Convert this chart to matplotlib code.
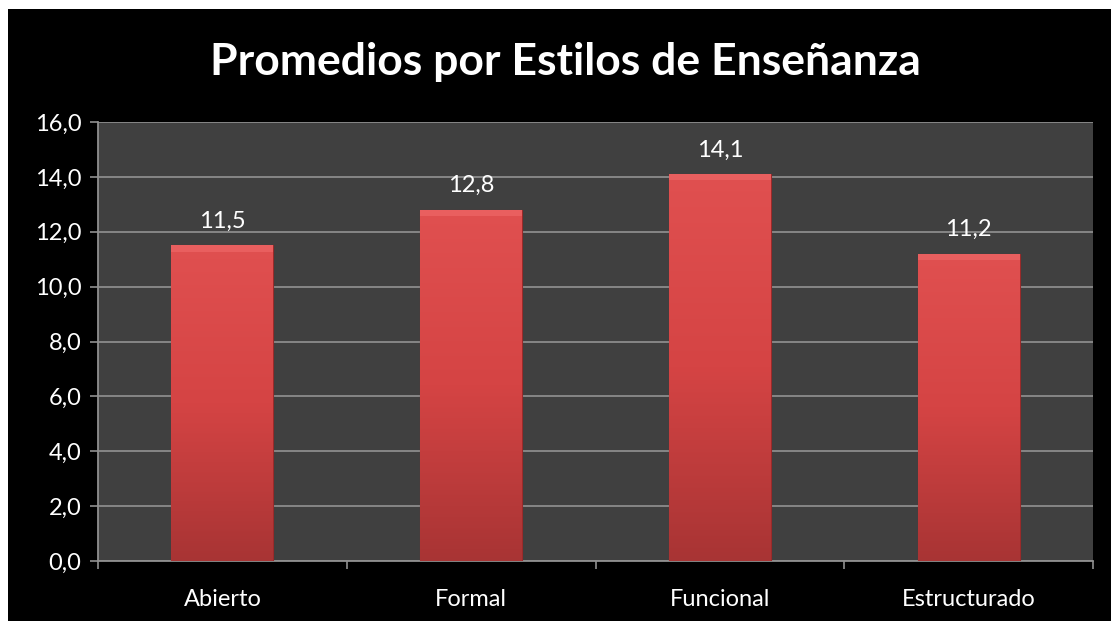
import numpy as np
import matplotlib.pyplot as plt
from matplotlib.patches import Rectangle
from matplotlib.colors import LinearSegmentedColormap

plt.rcParams['font.family'] = ['Lato', 'DejaVu Sans']

# datos
estilos = ['Abierto', 'Formal', 'Funcional', 'Estructurado']
promedios = [11.5, 12.8, 14.1, 11.2]
yticks = np.arange(0, 16.1, 2)

fig = plt.figure(figsize=(11.11, 6.21), dpi=100)
fig.patch.set_facecolor('white')
# fondo negro del gráfico (con margen blanco arriba e izquierda)
fig.patches.append(Rectangle((8 / 1111, 0), 1, 1 - 9 / 621, transform=fig.transFigure,
                             facecolor='black', edgecolor='none', zorder=-10))

ax = fig.add_axes([98 / 1111, 1 - 561 / 621, (1093 - 98) / 1111, (561 - 122) / 621])
ax.set_facecolor('#404040')

x = np.arange(len(estilos))
ancho = 0.41
barras = ax.bar(x, promedios, width=ancho, color='#d04040', edgecolor='#9a2a2a',
                linewidth=0.8, zorder=3)

# degradado vertical en cada barra
cmap = LinearSegmentedColormap.from_list('rojo', ['#a83434', '#d54444', '#e05050'])
grad = np.linspace(0, 1, 256).reshape(-1, 1)
for b in barras:
    x0, w, h = b.get_x(), b.get_width(), b.get_height()
    im = ax.imshow(grad, cmap=cmap, origin='lower', aspect='auto',
                   extent=(x0, x0 + w, 0, h), zorder=3.5)
    im.set_clip_path(b)
    # bisel superior
    ax.add_patch(Rectangle((x0, h - 0.22), w, 0.22, facecolor='#f06a6a',
                           edgecolor='none', alpha=0.6, zorder=4))

for xi, v in zip(x, promedios):
    ax.text(xi, v + 0.5, f'{v:.1f}'.replace('.', ','), ha='center', va='bottom',
            color='white', fontsize=17)

ax.set_xlim(-0.5, len(estilos) - 0.5)
ax.set_ylim(0, 16)
ax.set_yticks(yticks)
ax.set_yticklabels([f'{t:.1f}'.replace('.', ',') for t in yticks])
ax.set_xticks(x)
ax.set_xticklabels(estilos)
ax.set_xticks(np.arange(-0.5, len(estilos)), minor=True)
ax.tick_params(axis='x', which='major', length=0, pad=20, colors='white', labelsize=17)
ax.tick_params(axis='x', which='minor', length=6, color='#909090', width=1.2)
ax.tick_params(axis='y', length=6, color='#909090', width=1.2, colors='white',
               labelsize=17, pad=6)
ax.tick_params(axis='y', color='#909090')
ax.tick_params(axis='x', color='#909090')
ax.yaxis.grid(True, color='#8c8c8c', linewidth=1.3, zorder=1)
ax.set_axisbelow(True)
for s in ['top', 'right']:
    ax.spines[s].set_visible(False)
for s in ['left', 'bottom']:
    ax.spines[s].set_color('#909090')
    ax.spines[s].set_linewidth(1.3)

fig.text(565 / 1111, 1 - 62 / 621, 'Promedios por Estilos de Enseñanza', ha='center',
         va='center', color='white', fontsize=32, fontweight='bold')

fig.savefig('out.png', dpi=100, facecolor=fig.get_facecolor())
